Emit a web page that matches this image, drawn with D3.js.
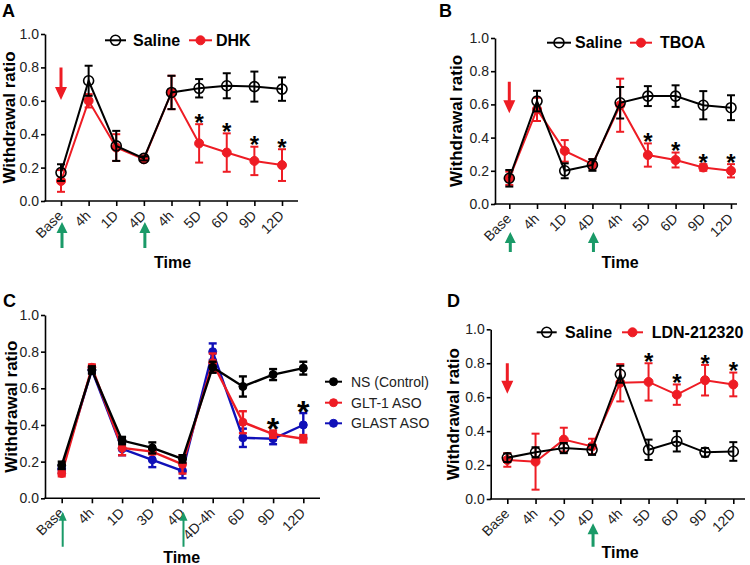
<!DOCTYPE html>
<html><head><meta charset="utf-8">
<script src="https://cdn.jsdelivr.net/npm/d3@7"></script>
<style>body{margin:0;background:#fff}svg{display:block;font-family:"Liberation Sans",Arial,sans-serif}</style>
</head><body><svg id="c" width="750" height="565"></svg>
<script>
// ---------- data ----------
const yTicks = [0, 0.2, 0.4, 0.6, 0.8, 1.0];

const catsA = ["Base","4h","1D","4D","4h","5D","6D","9D","12D"];
const salineA    = [0.17, 0.72, 0.33, 0.255, 0.65, 0.675, 0.69, 0.685, 0.67];
const salineAErr = [0.05, 0.09, 0.09, 0.012, 0.10, 0.055, 0.075, 0.09, 0.07];
const dhk        = [0.12, 0.60, 0.32, 0.25, 0.65, 0.345, 0.29, 0.24, 0.215];
const dhkErr     = [0.065,0.04, 0.08, 0.012, 0.10, 0.115, 0.115, 0.085, 0.095];
const sigA = [5, 6, 7, 8];

const catsB = ["Base","4h","1D","4D","4h","5D","6D","9D","12D"];
const salineB    = [0.155, 0.62, 0.20, 0.235, 0.61, 0.65, 0.65, 0.595, 0.58];
const salineBErr = [0.05, 0.062, 0.045, 0.035, 0.095, 0.06, 0.065, 0.085, 0.075];
const tboa       = [0.155, 0.57, 0.32, 0.24, 0.595, 0.295, 0.265, 0.22, 0.20];
const tboaErr    = [0.04, 0.07, 0.065, 0.03, 0.16, 0.07, 0.045, 0.02, 0.04];
const sigB = [5, 6, 7, 8];

const catsC = ["Base","4h","1D","3D","4D","4D-4h","6D","9D","12D"];
const nsC      = [0.18, 0.70, 0.315, 0.275, 0.215, 0.715, 0.61, 0.675, 0.71];
const nsCErr   = [0.02, 0.02, 0.02, 0.03, 0.02, 0.03, 0.055, 0.03, 0.035];
const glt1     = [0.135, 0.715, 0.275, 0.255, 0.185, 0.74, 0.415, 0.35, 0.325];
const glt1Err  = [0.015, 0.015, 0.04, 0.015, 0.05, 0.05, 0.06, 0.02, 0.02];
const glast    = [0.16, 0.70, 0.27, 0.21, 0.15, 0.80, 0.33, 0.325, 0.40];
const glastErr = [0.02, 0.015, 0.035, 0.04, 0.04, 0.045, 0.05, 0.03, 0.065];
const sigC = [7, 8];

const catsD = ["Base","4h","1D","4D","4h","5D","6D","9D","12D"];
const salineD    = [0.243, 0.275, 0.30, 0.29, 0.735, 0.29, 0.34, 0.275, 0.28];
const salineDErr = [0.025, 0.03, 0.03, 0.03, 0.05, 0.06, 0.06, 0.025, 0.055];
const ldn        = [0.23, 0.22, 0.35, 0.31, 0.685, 0.69, 0.615, 0.70, 0.675];
const ldnErr     = [0.04, 0.165, 0.07, 0.045, 0.11, 0.11, 0.06, 0.09, 0.07];
const sigD = [5, 6, 7, 8];

// ---------- styles ----------
const RED = "#ee1c24", BLUE = "#1010b8", BLACK = "#000", GREEN = "#1a9a68";

const svg = d3.select("#c");

function downArrow(g, x, yTop, yTip, sw, hw, hh, color) {
  g.append("path").attr("fill", color)
    .attr("d", `M${x-sw/2},${yTop}L${x+sw/2},${yTop}L${x+sw/2},${yTip-hh}L${x+hw},${yTip-hh}L${x},${yTip}L${x-hw},${yTip-hh}L${x-sw/2},${yTip-hh}Z`);
}
function upArrow(g, x, yTip, yBot, sw, hw, hh, color) {
  g.append("path").attr("fill", color)
    .attr("d", `M${x-sw/2},${yBot}L${x+sw/2},${yBot}L${x+sw/2},${yTip+hh}L${x+hw},${yTip+hh}L${x},${yTip}L${x-hw},${yTip+hh}L${x-sw/2},${yTip+hh}Z`);
}

function panel(cfg) {
  const g = svg.append("g");
  const n = cfg.cats.length;
  const x = d3.scalePoint().domain(d3.range(n)).range([cfg.first, cfg.last]);
  const y = d3.scaleLinear().domain([0, 1]).range([cfg.y0, cfg.y1]);

  // y axis
  const ya = g.append("g").attr("transform", `translate(${cfg.ax0},0)`)
    .call(d3.axisLeft(y).tickValues(yTicks).tickFormat(d3.format(".1f")).tickSize(4).tickSizeOuter(0).tickPadding(2));
  ya.select(".domain").attr("stroke-width", 1.6);
  ya.selectAll(".tick line").attr("stroke-width", 1.6);
  ya.selectAll("text").attr("font-size", 14).attr("font-family", "Liberation Sans, Arial").attr("fill", "#222");

  // x axis
  const xa = g.append("g").attr("transform", `translate(0,${cfg.y0})`)
    .call(d3.axisBottom(x).tickFormat(i => cfg.cats[i]).tickSize(5).tickSizeOuter(0));
  xa.select(".domain").remove();
  xa.append("line").attr("x1", cfg.ax0 - 0.8).attr("x2", cfg.ax1).attr("stroke", "#000").attr("stroke-width", 1.6);
  xa.selectAll(".tick line").attr("stroke-width", 1.6);
  xa.selectAll("text").attr("font-size", 14).attr("font-family", "Liberation Sans, Arial").attr("fill", "#222")
    .attr("x", 0).attr("y", 0).attr("dy", "0.35em")
    .attr("text-anchor", "end")
    .attr("transform", "translate(-1,12) rotate(-45)");

  // series
  cfg.series.forEach(s => {
    const sg = g.append("g");
    const line = d3.line().x((d, i) => x(i)).y(d => y(d));
    sg.append("path").datum(s.vals).attr("fill", "none").attr("stroke", s.color).attr("stroke-width", cfg.lw).attr("d", line);
    s.vals.forEach((v, i) => {
      const e = s.err[i], cx = x(i), cw = cfg.cap;
      const t = y(v + e), b = y(v - e);
      sg.append("line").attr("x1", cx).attr("x2", cx).attr("y1", t).attr("y2", b).attr("stroke", s.color).attr("stroke-width", cfg.lw);
      sg.append("line").attr("x1", cx - cw).attr("x2", cx + cw).attr("y1", t).attr("y2", t).attr("stroke", s.color).attr("stroke-width", cfg.lw);
      sg.append("line").attr("x1", cx - cw).attr("x2", cx + cw).attr("y1", b).attr("y2", b).attr("stroke", s.color).attr("stroke-width", cfg.lw);
    });
    s.vals.forEach((v, i) => {
      sg.append("circle").attr("cx", x(i)).attr("cy", y(v)).attr("r", s.r)
        .attr("fill", s.open ? "none" : s.color).attr("stroke", s.color).attr("stroke-width", s.open ? 1.6 : 1);
    });
  });

  // significance asterisks (above the treated series' error bars)
  cfg.sig.forEach(i => {
    const top = d3.max(cfg.sigSeries, s => s.vals[i] + s.err[i]);
    g.append("text").attr("x", x(i)).attr("y", y(top) + 0.36 * cfg.starSize - 2)
      .attr("text-anchor", "middle").attr("font-size", cfg.starSize).attr("font-weight", "bold")
      .attr("font-family", "Liberation Sans, Arial").text("*");
  });

  // legend
  cfg.legend.forEach(l => {
    g.append("line").attr("x1", l.lx0).attr("x2", l.lx1).attr("y1", l.ly).attr("y2", l.ly).attr("stroke", l.s.color).attr("stroke-width", 2);
    g.append("circle").attr("cx", (l.lx0 + l.lx1) / 2).attr("cy", l.ly).attr("r", l.s.r)
      .attr("fill", l.s.open ? "none" : l.s.color).attr("stroke", l.s.color).attr("stroke-width", l.s.open ? 1.6 : 1);
    g.append("text").attr("x", l.tx).attr("y", l.ly + (l.bold ? 5.7 : 5)).attr("font-size", l.bold ? 16 : 14)
      .attr("font-weight", l.bold ? "bold" : "normal").attr("fill", l.bold ? "#000" : "#222").text(l.label);
  });

  // titles
  g.append("text").attr("transform", `translate(${cfg.ytx},${(cfg.y0 + cfg.y1) / 2}) rotate(-90)`)
    .attr("text-anchor", "middle").attr("font-size", 17).attr("font-weight", "bold").text("Withdrawal ratio");
  g.append("text").attr("x", cfg.timeX).attr("y", cfg.timeY).attr("text-anchor", "middle")
    .attr("font-size", 16).attr("font-weight", "bold").text("Time");
  g.append("text").attr("x", cfg.lx).attr("y", cfg.ly).attr("font-size", 18).attr("font-weight", "bold").text(cfg.letter);

  // arrows
  if (cfg.red) downArrow(g, x(0), y(cfg.red[0]), y(cfg.red[1]), 3, 6, 13, RED);
  cfg.green.forEach(i => upArrow(g, x(i) + 1, cfg.gTop, cfg.gBot, cfg.gsw, cfg.ghw, cfg.ghh, GREEN));
  return {x, y};
}

// Panel A
const sA = {vals: salineA, err: salineAErr, color: BLACK, open: true, r: 5};
const dA = {vals: dhk, err: dhkErr, color: RED, open: false, r: 4.5};
panel({cats: catsA, first: 61, last: 282, ax0: 45, ax1: 298, y0: 201, y1: 34, cap: 4, lw: 2,
  series: [dA, sA], sig: sigA, sigSeries: [dA], starSize: 24,
  legend: [{s: sA, lx0: 105, lx1: 126, ly: 40.3, tx: 133, label: "Saline", bold: true},
           {s: dA, lx0: 189, lx1: 212, ly: 40.3, tx: 216, label: "DHK", bold: true}],
  ytx: 15, timeX: 172.5, timeY: 268, lx: 2, ly: 17, letter: "A",
  red: [0.80, 0.605], green: [0, 3], gTop: 222, gBot: 248, gsw: 3, ghw: 5.5, ghh: 11});

// Panel B
const sB = {vals: salineB, err: salineBErr, color: BLACK, open: true, r: 5};
const tB = {vals: tboa, err: tboaErr, color: RED, open: false, r: 4.5};
panel({cats: catsB, first: 509.3, last: 731, ax0: 495, ax1: 737, y0: 204, y1: 38, cap: 4, lw: 2,
  series: [tB, sB], sig: sigB, sigSeries: [tB], starSize: 24,
  legend: [{s: sB, lx0: 547, lx1: 571, ly: 42.7, tx: 575, label: "Saline", bold: true},
           {s: tB, lx0: 630, lx1: 652, ly: 42.7, tx: 660, label: "TBOA", bold: true}],
  ytx: 462, timeX: 620, timeY: 268, lx: 439, ly: 17, letter: "B",
  red: [0.737, 0.546], green: [0, 3], gTop: 232, gBot: 252, gsw: 3, ghw: 5.5, ghh: 11});

// Panel C
const nC = {vals: nsC, err: nsCErr, color: BLACK, open: false, r: 4};
const gC = {vals: glt1, err: glt1Err, color: RED, open: false, r: 4};
const bC = {vals: glast, err: glastErr, color: BLUE, open: false, r: 4};
panel({cats: catsC, first: 61.7, last: 303.3, ax0: 45, ax1: 320, y0: 498.3, y1: 315, cap: 4, lw: 2.4,
  series: [bC, gC, nC], sig: sigC, sigSeries: [gC, bC], starSize: 32,
  legend: [{s: nC, lx0: 325, lx1: 342, ly: 381.7, tx: 351, label: "NS (Control)", bold: false},
           {s: gC, lx0: 325, lx1: 342, ly: 402.7, tx: 351, label: "GLT-1 ASO", bold: false},
           {s: bC, lx0: 325, lx1: 342, ly: 423.3, tx: 351, label: "GLAST ASO", bold: false}],
  ytx: 17, timeX: 181.7, timeY: 563, lx: 3, ly: 307, letter: "C",
  red: null, green: [0, 4], gTop: 511.7, gBot: 546.7, gsw: 2, ghw: 4, ghh: 9});

// Panel D
const sD = {vals: salineD, err: salineDErr, color: BLACK, open: true, r: 5};
const lD = {vals: ldn, err: ldnErr, color: RED, open: false, r: 4.5};
panel({cats: catsD, first: 507.3, last: 733.3, ax0: 490.7, ax1: 745, y0: 499, y1: 329.3, cap: 4, lw: 2,
  series: [lD, sD], sig: sigD, sigSeries: [lD], starSize: 24,
  legend: [{s: sD, lx0: 536.7, lx1: 556.7, ly: 332.3, tx: 565, label: "Saline", bold: true},
           {s: lD, lx0: 622, lx1: 643, ly: 332.3, tx: 651.7, label: "LDN-212320", bold: true}],
  ytx: 459, timeX: 620, timeY: 558, lx: 447, ly: 307, letter: "D",
  red: [0.80, 0.62], green: [3], gTop: 523.3, gBot: 546.7, gsw: 3, ghw: 5.5, ghh: 11});
</script></body></html>
